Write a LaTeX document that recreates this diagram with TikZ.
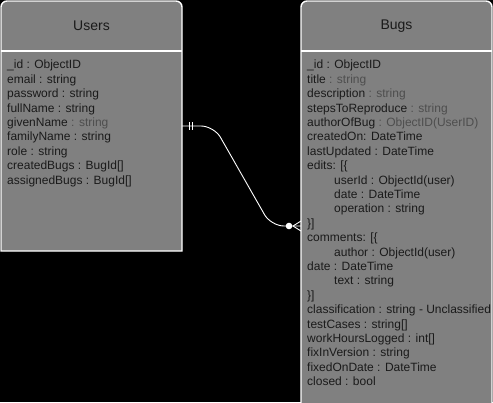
\documentclass[tikz,border=0pt]{standalone}
\usepackage{fontspec}
\setmainfont{Liberation Sans}
\usetikzlibrary{calc}
\definecolor{tablegray}{HTML}{808080}
\definecolor{fadetext}{HTML}{4E4E4E}
\definecolor{darktext}{HTML}{1A1A1A}

\begin{document}
\begin{tikzpicture}[x=1pt,y=-1pt,
  table/.style={fill=tablegray,draw=white,line width=1.4pt},
  rule/.style={draw=white,line width=1.4pt},
  title/.style={text=darktext,font=\fontsize{14}{16}\selectfont},
  fields/.style={anchor=north west,align=left,inner sep=0pt,text=darktext,
    font=\fontsize{12}{14.4}\selectfont},
  rel/.style={draw=white,line width=0.9pt}]
  \newcommand{\dimtext}[1]{{\color{fadetext}#1}}
  \newcommand{\ind}{\hspace*{27pt}}
  \fill[black] (0,0) rectangle (493,402);
  \useasboundingbox (0,0) rectangle (493,402);
  % Users table
  \draw[table] (1,251) [rounded corners=6pt] -- (1,1) -- (182,1) [sharp corners] -- (182,251) -- cycle;
  \draw[rule] (1,51) -- (182,51);
  \node[title] (users) at (91.5,26) {Users};
  \node[fields] (userfields) at (7,60) {\_id : ObjectID\\
    email : string\\
    password : string\\
    fullName : string\\
    givenName \dimtext{: string}\\
    familyName : string\\
    role : string\\
    createdBugs : BugId[]\\
    assignedBugs : BugId[]};
  % Bugs table
  \draw[table] (301,420) [rounded corners=6pt] -- (301,1) -- (492,1) [sharp corners] -- (492,420) -- cycle;
  \draw[rule] (301,51) -- (492,51);
  \node[title] (bugs) at (396.5,26) {Bugs};
  \node[fields] (bugfields) at (307,60) {\_id : ObjectID\\
    title \dimtext{: string}\\
    description \dimtext{: string}\\
    stepsToReproduce \dimtext{: string}\\
    authorOfBug \dimtext{: ObjectID(UserID)}\\
    createdOn: DateTime\\
    lastUpdated : DateTime\\
    edits: [\{\\
    \ind userId : ObjectId(user)\\
    \ind date : DateTime\\
    \ind operation : string\\
    \}]\\
    comments: [\{\\
    \ind author : ObjectId(user)\\
    date : DateTime\\
    \ind text : string\\
    \}]\\
    classification : string - Unclassified\\
    testCases : string[]\\
    workHoursLogged : int[]\\
    fixInVersion : string\\
    fixedOnDate : DateTime\\
    closed : bool};
  % relation users -> bugs
  \coordinate (userport) at (182,126);
  \coordinate (bugport) at (301,226);
  \draw[rel,rounded corners=13pt] (userport) -- ($(userport)+(32,0)$)
    -- ($(bugport)+(-30,0)$) -- (bugport);
  \draw[rel] ($(userport)+(7,-4)$) -- ($(userport)+(7,4)$)
    ($(userport)+(10,-4)$) -- ($(userport)+(10,4)$);
  \fill[white] ($(bugport)+(-12,0)$) circle (3.3pt);
  \draw[rel] ($(bugport)+(-8,0)$) -- ($(bugport)+(0,-5)$)
    ($(bugport)+(-8,0)$) -- ($(bugport)+(0,5)$);
\end{tikzpicture}
\end{document}
